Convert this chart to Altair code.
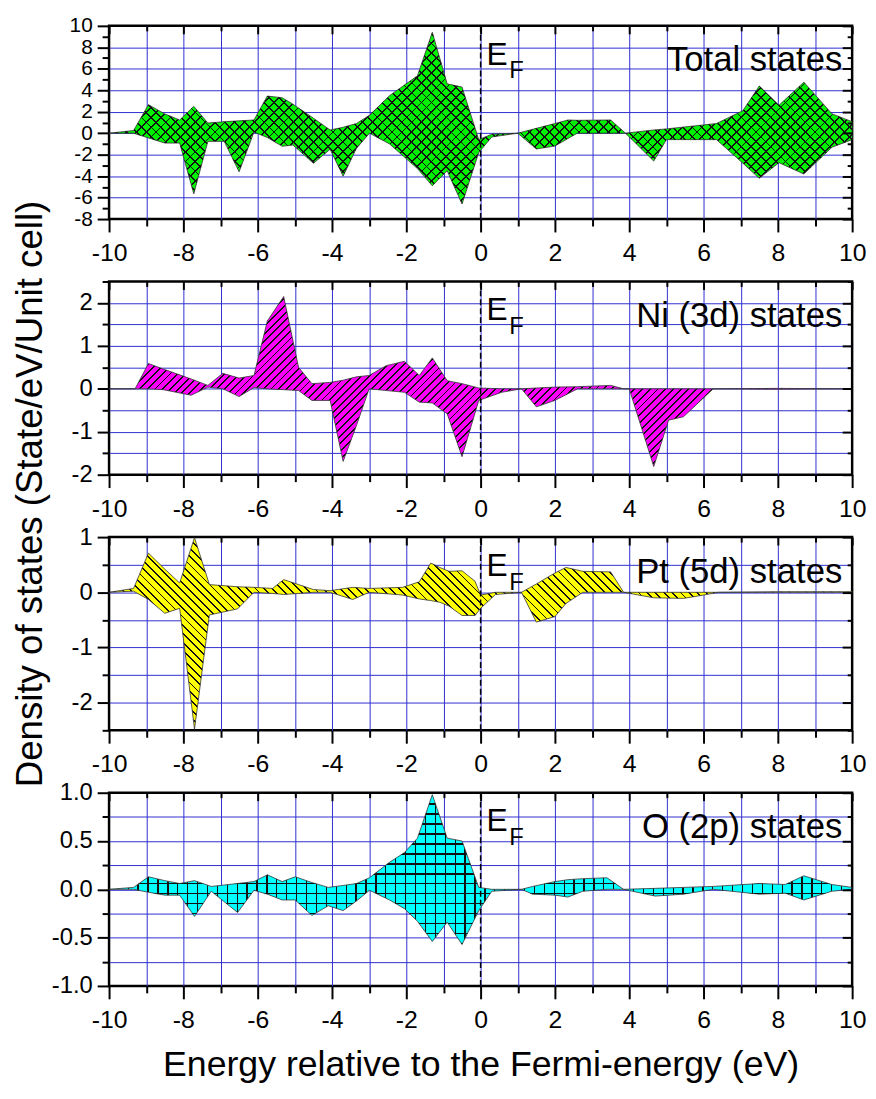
import math
import altair as alt
import pandas as pd

# ---------------- data ----------------
# Total states
tot_E = [-10, -9.34, -8.94, -8.5, -8.1, -7.72, -7.34, -6.9, -6.5, -6.1, -5.74, -5.34, -5.05, -4.5,
         -4.05, -3.7, -3.34, -2.99, -2.45, -1.7, -1.3, -0.9, -0.5, -0.05, 0.3, 1.0, 1.5, 2.0, 2.35,
         2.6, 3.5, 3.9, 4.66, 5.0, 6.35, 7.06, 7.5, 8.03, 8.7, 9.46, 10]
tot_up = [0, 0.25, 2.66, 1.8, 1.23, 2.5, 0.95, 1.07, 1.15, 1.23, 3.46, 3.3, 2.7, 1.4,
          0.3, 0.55, 0.9, 1.68, 3.5, 5.35, 9.4, 4.6, 4.3, -0.6, -0.1, 0, 0.45, 0.9, 1.23,
          1.2, 1.23, 0, 0.3, 0.4, 0.9, 2.1, 4.4, 2.6, 4.75, 1.8, 1.07]
tot_dn = [0, 0, -0.44, -0.92, -0.92, -5.65, -0.76, -0.76, -3.6, 0.1, -0.4, -1.22, -1.1, -2.8,
          -1.5, -4.0, -1.4, 0, -1.0, -3.3, -4.9, -3.5, -6.6, -1.8, -0.35, 0, -1.47, -1.2, -0.5,
          0, 0, 0, -2.6, -0.6, -0.6, -2.8, -4.2, -2.75, -3.8, -1.3, -0.6]

# Ni (3d)
ni_E = [-10, -9.3, -8.94, -8.54, -7.79, -7.34, -6.94, -6.5, -6.1, -5.74, -5.3, -4.9, -4.54, -4.05,
        -3.7, -3.34, -3.0, -2.54, -2.05, -1.65, -1.3, -0.9, -0.5, -0.05, 0.57, 1.1, 1.5, 2.0,
        2.61, 3.5, 3.85, 4.0, 4.66, 5.06, 5.46, 6.26, 8.0, 10]
ni_up = [0, 0, 0.59, 0.46, 0.23, 0.08, 0.36, 0.25, 0.31, 1.58, 2.15, 0.5, 0.12, 0.15,
         0.2, 0.28, 0.31, 0.54, 0.64, 0.31, 0.72, 0.19, 0.12, 0.02, 0.0, 0, 0.02, 0.04,
         0.05, 0.08, 0, 0, 0, 0, 0, 0, 0.01, 0]
ni_dn = [0, 0, 0, -0.02, -0.15, 0.04, 0, -0.18, 0.03, 0, -0.02, -0.04, -0.27, -0.27,
         -1.69, -0.85, 0, -0.04, -0.08, -0.31, -0.33, -0.58, -1.58, -0.27, -0.08, 0, -0.42, -0.27,
         0, 0, 0, 0, -1.81, -0.73, -0.65, 0, -0.01, 0]

# Pt (5d)
pt_E = [-10, -9.34, -8.94, -8.5, -8.1, -7.7, -7.3, -6.54, -6.1, -5.6, -5.3, -4.9, -4.5, -4.05,
        -3.44, -3.0, -2.1, -1.65, -1.34, -1.1, -0.85, -0.5, -0.15, 0.0, 0.4, 1.1, 1.5, 2.0,
        2.3, 2.75, 3.5, 3.85, 4.66, 5.46, 6.0, 6.4, 8.0, 10]
pt_up = [0, 0.07, 0.71, 0.42, 0.17, 0.99, 0.14, 0.1, 0.09, 0.07, 0.23, 0.14, 0.05, 0.03,
         0.09, 0.07, 0.09, 0.19, 0.53, 0.45, 0.38, 0.39, 0.2, -0.05, 0.0, 0, 0.15, 0.35,
         0.45, 0.38, 0.37, 0, 0, 0, 0, 0, 0.01, 0.01]
pt_dn = [0, 0.02, -0.13, -0.38, -0.29, -2.48, -0.41, -0.3, 0, -0.02, -0.04, -0.02, 0, 0,
         -0.13, 0, -0.05, -0.12, -0.15, -0.18, -0.25, -0.42, -0.42, -0.29, -0.04, 0, -0.54, -0.44,
         -0.2, 0, 0, 0, -0.1, -0.11, -0.05, 0, 0, 0]

# O (2p)
o_E = [-10, -9.34, -8.94, -8.5, -8.1, -7.7, -7.25, -6.54, -6.1, -5.74, -5.34, -4.99, -4.54, -4.1,
       -3.7, -3.34, -2.99, -2.45, -2.05, -1.7, -1.3, -0.9, -0.5, -0.05, 0.3, 1.1, 1.4, 2.0,
       2.35, 2.75, 3.4, 3.85, 4.7, 5.46, 6.26, 7.5, 8.2, 8.7, 9.45, 10]
o_up = [0, 0.02, 0.13, 0.09, 0.06, 0.09, 0.03, 0.06, 0.08, 0.15, 0.08, 0.13, 0.07, 0.02,
        0.04, 0.06, 0.12, 0.28, 0.38, 0.53, 0.98, 0.53, 0.5, 0.02, 0, 0, 0.03, 0.08,
        0.1, 0.11, 0.12, 0, 0.01, 0.02, 0.03, 0.06, 0.05, 0.14, 0.05, 0.02]
o_dn = [0, 0, -0.03, -0.06, -0.06, -0.28, -0.02, -0.24, -0.01, -0.05, -0.11, -0.11, -0.27, -0.17,
        -0.22, -0.12, -0.01, -0.11, -0.2, -0.33, -0.54, -0.34, -0.57, -0.22, -0.02, 0, -0.05, -0.06,
        -0.08, -0.02, 0, 0, -0.07, -0.05, 0, -0.05, -0.04, -0.11, -0.02, 0]

panel_labels = ["Total states", "Ni (3d) states", "Pt (5d) states", "O (2p) states"]
x_title = "Energy relative to the Fermi-energy (eV)"
y_title = "Density of states (State/eV/Unit cell)"
fermi_energy = [0]

# ---------------- style ----------------
FONT = "Liberation Sans"
W, H = 750, 195
GRID_BLUE = "#2f2fcf"


def labexpr(fmt):
    return f"(datum.value < 0 ? '-' : '') + format(abs(datum.value), '{fmt}')"


def hatch(kind, color, line, spacing, bw, bh, lw=1.3):
    r = bh / bw
    a = (1 + r) / (1 + r * r)
    if kind == "/":
        x1, y1, x2, y2 = 0, 0, a, a * r
        length = (bw + bh) / math.sqrt(2)
    elif kind == "\\":
        x1, y1, x2, y2 = 1, 0, 1 - a, a * r
        length = (bw + bh) / math.sqrt(2)
    elif kind == "|":
        x1, y1, x2, y2 = 0, 0, 1, 0
        length = bw
    else:
        x1, y1, x2, y2 = 0, 0, 0, 1
        length = bh
    n = max(1, int(round(length / spacing)))
    f = min(0.5, lw / (length / n))
    stops = []
    for i in range(n):
        o0 = round(i / n, 6)
        o1 = round((i + 1 - f) / n, 6)
        o2 = round((i + 1) / n, 6)
        stops += [alt.GradientStop(color=color, offset=o0),
                  alt.GradientStop(color=color, offset=o1),
                  alt.GradientStop(color=line, offset=o1),
                  alt.GradientStop(color=line, offset=o2)]
    return alt.LinearGradient(gradient="linear", stops=stops,
                              x1=x1, y1=y1, x2=round(x2, 6), y2=round(y2, 6))


def ax(**kw):
    base = dict(title=None, labels=False, domain=False, grid=False, ticks=True,
                tickColor="black", minExtent=0)
    base.update(kw)
    return alt.Axis(**base)


def frange(a, b, s):
    out = []
    v = a
    while v <= b + 1e-9:
        out.append(round(v, 4))
        v += s
    return out


def panel(E, up, dn, ymin, ymax, major, minor, grid_vals, fmt, color, hatches,
          label, show_xtitle=False, show_ytitle=False, ylab_size=24):
    df = pd.DataFrame({"E": E, "up": up, "dn": dn})
    base = alt.Chart(df)
    xs = alt.Scale(domain=[-10, 10], nice=False, zero=False)
    ys = alt.Scale(domain=[ymin, ymax], nice=False, zero=False)
    bh = (max(up) - min(dn)) / (ymax - ymin) * H

    x_major = list(range(-10, 11, 2))
    x_minor = [v for v in range(-9, 10, 2)]
    x_grid = list(range(-9, 10))

    grid_layer = base.mark_point(opacity=0).encode(
        x=alt.X("E:Q", scale=xs, axis=ax(values=x_grid, ticks=False, grid=True,
                                          gridColor=GRID_BLUE, gridWidth=1, gridOpacity=1)),
        y=alt.Y("up:Q", scale=ys, axis=ax(values=grid_vals, ticks=False, grid=True,
                                           gridColor=GRID_BLUE, gridWidth=1, gridOpacity=1)),
    )
    minor_layer = base.mark_point(opacity=0).encode(
        x=alt.X("E:Q", scale=xs, axis=ax(values=x_minor, tickSize=7, tickWidth=2, orient="bottom")),
        y=alt.Y("up:Q", scale=ys, axis=ax(values=minor, tickSize=7, tickWidth=2, orient="left")),
    )
    in_major = base.mark_point(opacity=0).encode(
        x=alt.X("E:Q", scale=xs, axis=ax(values=x_major, tickSize=8, tickWidth=2, orient="top",
                                          offset=-8, zindex=1)),
        y=alt.Y("up:Q", scale=ys, axis=ax(values=major, tickSize=10, tickWidth=2, orient="right",
                                           offset=-10, zindex=1)),
    )
    in_minor = base.mark_point(opacity=0).encode(
        x=alt.X("E:Q", scale=xs, axis=ax(values=x_minor, tickSize=5, tickWidth=2, orient="top",
                                          offset=-5, zindex=1)),
        y=alt.Y("up:Q", scale=ys, axis=ax(values=minor, tickSize=5, tickWidth=2, orient="right",
                                           offset=-5, zindex=1)),
    )

    xkw = dict(values=x_major, tickSize=13, tickWidth=2, labels=True, labelFontSize=25,
               labelPadding=9, labelExpr=labexpr("d"), labelFlush=False, labelOverlap=False,
               orient="bottom")
    if show_xtitle:
        xkw.update(title=x_title, titleFontSize=36, titlePadding=15, titleFontWeight="normal")
    ykw = dict(values=major, tickSize=12, tickWidth=2, labels=True, labelFontSize=ylab_size,
               labelPadding=5, labelExpr=labexpr(fmt), labelFlush=False, labelOverlap=False,
               orient="left")
    if show_ytitle:
        ykw.update(title=y_title, titleFontSize=37, titleX=-68, titleY=214, titleAngle=270,
                   titleAlign="center", titleBaseline="alphabetic", titleFontWeight="normal")

    kind0, sp0 = hatches[0]
    area = base.mark_area(fill=hatch(kind0, color, "#111111", sp0, W, bh),
                          stroke="#333333", strokeWidth=0.8).encode(
        x=alt.X("E:Q", scale=xs, axis=ax(**xkw)),
        y=alt.Y("up:Q", scale=ys, axis=ax(**ykw)),
        y2="dn:Q",
    )
    layers = [grid_layer, minor_layer, in_major, in_minor, area]
    for kind, sp in hatches[1:]:
        layers.append(base.mark_area(fill=hatch(kind, "rgba(0,0,0,0)", "#111111", sp, W, bh),
                                     strokeWidth=0).encode(
            x=alt.X("E:Q", scale=xs, axis=None),
            y=alt.Y("up:Q", scale=ys, axis=None),
            y2="dn:Q",
        ))

    ef = alt.Chart(pd.DataFrame({"E": fermi_energy}))
    layers.append(ef.mark_rule(color="black", strokeDash=[6, 3], strokeWidth=1.5).encode(
        x=alt.X("E:Q", scale=xs, axis=None)))
    layers.append(ef.mark_text(text="E", fontSize=32, font=FONT, align="left",
                               baseline="alphabetic", dx=6, color="black").encode(
        x=alt.X("E:Q", scale=xs, axis=None), y=alt.value(39)))
    layers.append(ef.mark_text(text="F", fontSize=24, font=FONT, align="left",
                               baseline="alphabetic", dx=29, color="black").encode(
        x=alt.X("E:Q", scale=xs, axis=None), y=alt.value(53)))

    lab = alt.Chart(pd.DataFrame({"E": [10], "t": [label]}))
    layers.append(lab.mark_text(fontSize=35, font=FONT, align="right", baseline="alphabetic",
                                dx=-10, color="black").encode(
        x=alt.X("E:Q", scale=xs, axis=None), y=alt.value(46), text="t:N"))

    return alt.layer(*layers).resolve_axis(x="independent", y="independent").properties(
        width=W, height=H)


p1 = panel(tot_E, tot_up, tot_dn, -8, 10,
           major=frange(-8, 10, 2), minor=frange(-7, 9, 2), grid_vals=frange(-6, 8, 2),
           fmt="d", color="#00f000", hatches=[("/", 7.0), ("\\", 7.0)],
           label=panel_labels[0], ylab_size=21)
p2 = panel(ni_E, ni_up, ni_dn, -2, 2.5,
           major=frange(-2, 2, 1), minor=frange(-1.5, 2.5, 1), grid_vals=frange(-1.5, 2, 0.5),
           fmt="d", color="#ff00ff", hatches=[("/", 5.5)],
           label=panel_labels[1], show_ytitle=True)
p3 = panel(pt_E, pt_up, pt_dn, -2.5, 1,
           major=frange(-2, 1, 1), minor=frange(-2.5, 0.5, 1), grid_vals=frange(-2, 0.5, 0.5),
           fmt="d", color="#ffff00", hatches=[("\\", 6.0)],
           label=panel_labels[2])
p4 = panel(o_E, o_up, o_dn, -1, 1,
           major=frange(-1, 1, 0.5), minor=frange(-0.75, 0.75, 0.5), grid_vals=frange(-0.75, 0.75, 0.25),
           fmt=".1f", color="#00ffff", hatches=[("|", 10.0), ("-", 10.0)],
           label=panel_labels[3], show_xtitle=True)

chart = alt.vconcat(p1, p2, p3, p4, spacing=63, bounds="flush").properties(
    padding={"left": 2, "top": 0, "right": 0, "bottom": 0}
).configure_view(
    stroke="black", strokeWidth=2.5
).configure_axis(
    labelFont=FONT, titleFont=FONT, labelColor="black", titleColor="black"
).configure_text(font=FONT)

chart.save("out.html", embed_options={"renderer": "svg", "actions": False})
